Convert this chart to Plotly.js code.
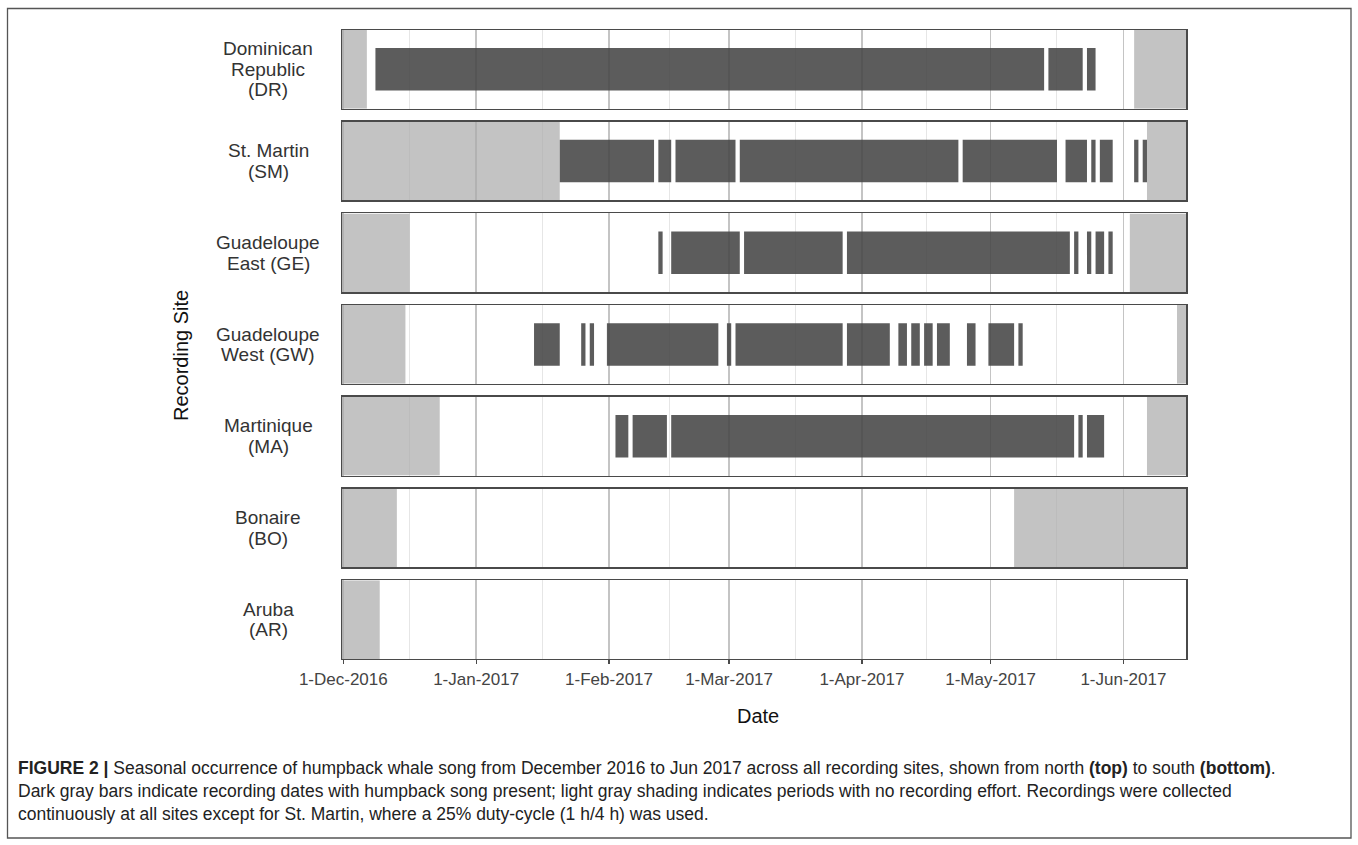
<!DOCTYPE html>
<html>
<head>
<meta charset="utf-8">
<script src="https://cdn.plot.ly/plotly-3.0.1.min.js"></script>
<style>
  html, body { margin: 0; padding: 0; background: #ffffff; }
  #chart { width: 1358px; height: 845px; }
</style>
</head>
<body>
<div id="chart"></div>
<script>
// Recording sites, north (top) to south (bottom); each label is drawn line by line
const siteLabels = [
  ["Dominican", "Republic", "(DR)"],
  ["St. Martin", "(SM)"],
  ["Guadeloupe", "East (GE)"],
  ["Guadeloupe", "West (GW)"],
  ["Martinique", "(MA)"],
  ["Bonaire", "(BO)"],
  ["Aruba", "(AR)"]
];

// Days with humpback song present: [first day, last day] of each run
const songDR = [
  ["2016-12-09", "2017-05-13"], ["2017-05-15", "2017-05-22"], ["2017-05-24", "2017-05-25"]
];
const songSM = [
  ["2017-01-21", "2017-02-11"], ["2017-02-13", "2017-02-15"], ["2017-02-17", "2017-03-02"],
  ["2017-03-04", "2017-04-23"], ["2017-04-25", "2017-05-16"], ["2017-05-19", "2017-05-23"],
  ["2017-05-25", "2017-05-25"], ["2017-05-27", "2017-05-29"], ["2017-06-04", "2017-06-04"],
  ["2017-06-06", "2017-06-06"]
];
const songGE = [
  ["2017-02-13", "2017-02-13"], ["2017-02-16", "2017-03-03"], ["2017-03-05", "2017-03-27"],
  ["2017-03-29", "2017-05-19"], ["2017-05-21", "2017-05-21"], ["2017-05-24", "2017-05-24"],
  ["2017-05-26", "2017-05-27"], ["2017-05-29", "2017-05-29"]
];
const songGW = [
  ["2017-01-15", "2017-01-20"], ["2017-01-26", "2017-01-26"], ["2017-01-28", "2017-01-28"],
  ["2017-02-01", "2017-02-26"], ["2017-03-01", "2017-03-01"], ["2017-03-03", "2017-03-27"],
  ["2017-03-29", "2017-04-07"], ["2017-04-10", "2017-04-11"], ["2017-04-13", "2017-04-14"],
  ["2017-04-16", "2017-04-17"], ["2017-04-19", "2017-04-21"], ["2017-04-26", "2017-04-27"],
  ["2017-05-01", "2017-05-06"], ["2017-05-08", "2017-05-08"]
];
const songMA = [
  ["2017-02-03", "2017-02-05"], ["2017-02-07", "2017-02-14"], ["2017-02-16", "2017-05-20"],
  ["2017-05-22", "2017-05-22"], ["2017-05-24", "2017-05-27"]
];
const songBO = [];
const songAR = [];

// Periods with no recording effort: [first day, last day]
const noEffortDR = [["2016-11-30", "2016-12-06"], ["2017-06-04", "2017-06-20"]];
const noEffortSM = [["2016-11-30", "2017-01-20"], ["2017-06-07", "2017-06-20"]];
const noEffortGE = [["2016-11-30", "2016-12-16"], ["2017-06-03", "2017-06-20"]];
const noEffortGW = [["2016-11-30", "2016-12-15"], ["2017-06-14", "2017-06-20"]];
const noEffortMA = [["2016-11-30", "2016-12-23"], ["2017-06-07", "2017-06-20"]];
const noEffortBO = [["2016-11-30", "2016-12-13"], ["2017-05-07", "2017-06-20"]];
const noEffortAR = [["2016-11-30", "2016-12-09"]];

// Date axis ticks
const monthTicks = ["2016-12-01", "2017-01-01", "2017-02-01", "2017-03-01", "2017-04-01", "2017-05-01", "2017-06-01"];
const monthTickLabels = ["1-Dec-2016", "1-Jan-2017", "1-Feb-2017", "1-Mar-2017", "1-Apr-2017", "1-May-2017", "1-Jun-2017"];
const dateRange = ["2016-11-30 16:48:00", "2017-06-15 14:24:00"];

const captionLines = [
  "<b>FIGURE 2 |</b> Seasonal occurrence of humpback whale song from December 2016 to Jun 2017 across all recording sites, shown from north <b>(top)</b> to south <b>(bottom)</b>.",
  "Dark gray bars indicate recording dates with humpback song present; light gray shading indicates periods with no recording effort. Recordings were collected",
  "continuously at all sites except for St. Martin, where a 25% duty-cycle (1 h/4 h) was used."
];

const songRuns = [songDR, songSM, songGE, songGW, songMA, songBO, songAR];
const noEffortRuns = [noEffortDR, noEffortSM, noEffortGE, noEffortGW, noEffortMA, noEffortBO, noEffortAR];

// ---- helpers ----
const DAY = 86400000;
function dayMs(s) { return Date.parse(s + "T00:00:00Z"); }
function fmt(ms) { return new Date(ms).toISOString().replace("T", " ").slice(0, 19); }
// each day is a tile centred on the date, one day wide
function runsToBars(runs) {
  return {
    base: runs.map(r => fmt(dayMs(r[0]) - DAY / 2)),
    len: runs.map(r => dayMs(r[1]) - dayMs(r[0]) + DAY)
  };
}
const midMonths = monthTicks.slice(0, -1).map((d, i) => fmt((dayMs(d) + dayMs(monthTicks[i + 1])) / 2));

// ---- page geometry (pixels) ----
const W = 1358, H = 845;
const plotL = 342, plotR = 1186, plotT = 30, plotB = 659;
const panelH = 78.7, panelGap = 13;
const px2x = p => (p - plotL) / (plotR - plotL);
const px2y = p => (plotB - p) / (plotB - plotT);

const FONT = "Liberation Sans, Arial, Helvetica, sans-serif";
const FRAME = "#4a4a4a";

const traces = [];
const layout = {
  width: W, height: H,
  margin: { l: plotL, r: W - plotR, t: plotT, b: H - plotB, pad: 0 },
  paper_bgcolor: "#ffffff",
  plot_bgcolor: "#ffffff",
  showlegend: false,
  barmode: "overlay",
  font: { family: FONT, color: "#333333" },
  annotations: [],
  shapes: []
};

siteLabels.forEach((lines, i) => {
  const xa = i === 0 ? "x" : "x" + (i + 1);
  const ya = i === 0 ? "y" : "y" + (i + 1);
  const top = plotT + i * (panelH + panelGap);
  const bot = top + panelH;
  const isBottom = i === siteLabels.length - 1;

  layout[i === 0 ? "xaxis" : "xaxis" + (i + 1)] = {
    type: "date",
    anchor: ya,
    domain: [0, 1],
    matches: i === 0 ? undefined : "x",
    range: dateRange,
    fixedrange: true,
    tickmode: "array",
    tickvals: monthTicks,
    ticktext: monthTickLabels,
    showticklabels: isBottom,
    ticks: isBottom ? "outside" : "",
    ticklen: 4, tickwidth: 1.3, tickcolor: FRAME,
    tickfont: { family: FONT, size: 17, color: "#444444" },
    showgrid: true, gridcolor: "#c4c4c4", gridwidth: 1.6,
    minor: { tickmode: "array", tickvals: midMonths, showgrid: true, gridcolor: "#e6e6e6", gridwidth: 1, ticks: "" },
    showline: true, mirror: true, linecolor: FRAME, linewidth: 1.5,
    zeroline: false
  };
  layout[i === 0 ? "yaxis" : "yaxis" + (i + 1)] = {
    anchor: xa,
    domain: [px2y(bot), px2y(top)],
    range: [0, 1], fixedrange: true,
    showgrid: false, zeroline: false, showticklabels: false, ticks: "",
    showline: true, mirror: true, linecolor: FRAME, linewidth: 1.5
  };

  const gap = runsToBars(noEffortRuns[i]);
  traces.push({
    type: "bar", orientation: "h", xaxis: xa, yaxis: ya,
    y: gap.base.map(() => 0.5), base: gap.base, x: gap.len, width: 1,
    marker: { color: "rgba(170,170,170,0.71)", line: { width: 0 } },
    hoverinfo: "skip"
  });
  const song = runsToBars(songRuns[i]);
  traces.push({
    type: "bar", orientation: "h", xaxis: xa, yaxis: ya,
    y: song.base.map(() => 0.5), base: song.base, x: song.len, width: 0.54,
    marker: { color: "rgba(70,70,70,0.88)", line: { width: 0 } },
    hoverinfo: "skip"
  });

  // site label, centred beside its panel
  const mid = (top + bot) / 2;
  const lh = 20.5;
  lines.forEach((t, k) => {
    layout.annotations.push({
      xref: "paper", yref: "paper",
      x: px2x(268), y: px2y(mid + (k - (lines.length - 1) / 2) * lh),
      xanchor: "center", yanchor: "middle",
      text: t, showarrow: false,
      font: { family: FONT, size: 19, color: "#333333" }
    });
  });
});

// axis titles
layout.annotations.push({
  xref: "paper", yref: "paper", x: px2x(181), y: px2y(356),
  xanchor: "center", yanchor: "middle", textangle: -90,
  text: "Recording Site", showarrow: false,
  font: { family: FONT, size: 20, color: "#111111" }
});
layout.annotations.push({
  xref: "paper", yref: "paper", x: px2x(758), y: px2y(716),
  xanchor: "center", yanchor: "middle",
  text: "Date", showarrow: false,
  font: { family: FONT, size: 20, color: "#111111" }
});

// caption
captionLines.forEach((t, k) => {
  layout.annotations.push({
    xref: "paper", yref: "paper", x: px2x(16), y: px2y(768 + k * 23),
    xanchor: "left", yanchor: "middle", align: "left",
    text: t, showarrow: false,
    font: { family: FONT, size: 17.5, color: "#222222" }
  });
});

// outer figure frame
layout.shapes.push({
  type: "rect", xref: "paper", yref: "paper", layer: "above",
  x0: px2x(7.5), x1: px2x(1351), y0: px2y(838), y1: px2y(8.5),
  line: { color: "#555555", width: 1.3 }, fillcolor: "rgba(0,0,0,0)"
});

Plotly.newPlot("chart", traces, layout, { displayModeBar: false, staticPlot: true });
</script>
</body>
</html>
